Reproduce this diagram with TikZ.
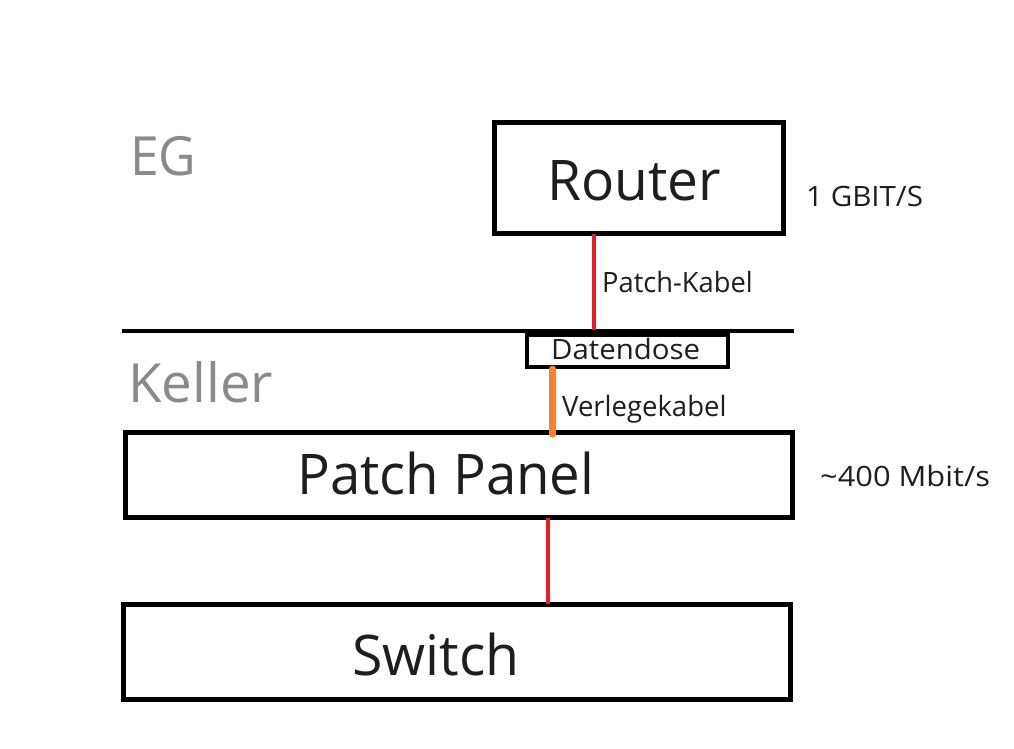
\documentclass[tikz,border=0pt]{standalone}
\usepackage{fontspec}
\usepackage{graphicx}
\setmainfont{Open Sans}
\definecolor{cabred}{HTML}{ED1C24}
\definecolor{cabora}{HTML}{FF7F27}
\definecolor{floorgray}{HTML}{8A8A8A}
\definecolor{txt}{HTML}{1E1E1E}
\newcommand{\hsq}[2]{\scalebox{#1}[1]{#2}}
\begin{document}
\begin{tikzpicture}[x=1pt,y=-1pt,
  box/.style={draw=black,line width=5pt,inner sep=0pt,minimum width=#1},
  bigtxt/.style={font=\fontsize{56}{60}\selectfont,text=txt,inner sep=0pt,anchor=base west},
  smalltxt/.style={font=\fontsize{28}{32}\selectfont,text=txt,inner sep=0pt,anchor=base west},
  floortxt/.style={font=\fontsize{54}{60}\selectfont,text=floorgray,inner sep=0pt,anchor=base west},
  redcable/.style={draw=cabred,line width=4pt},
  oracable/.style={draw=cabora,line width=7pt}]
\path[use as bounding box] (0,0) rectangle (1014,749);
\fill[white] (0,0) rectangle (1014,749);
% boxes
\node[box=289pt,minimum height=111pt] (router) at (639,178) {};
\node[draw=black,line width=4pt,inner sep=0pt,minimum width=201pt,minimum height=32pt] (dose) at (627.5,351) {};
\node[box=667pt,minimum height=85pt] (panel) at (459,475) {};
\node[box=666.5pt,minimum height=95pt] (switch) at (456.75,651.5) {};
% floor line
\coordinate (fl) at (122,330.5);
\coordinate (fr) at (794,330.5);
\draw[line width=4pt] (fl) -- (fr);
% texts
\node[bigtxt] (routert) at (547,200.5) {\hsq{0.983}{Router}};
\node[bigtxt] (panelt) at (297,494) {\hsq{0.974}{Patch Panel}};
\node[bigtxt] (switcht) at (352,675) {\hsq{0.988}{Switch}};
\node[smalltxt] (dosetxt) at (551,359) {\hsq{1.05}{Datendose}};
\node[smalltxt] (gbit) at (806,206) {\hsq{1.055}{1 GBIT/S}};
\node[smalltxt] (mbit) at (820,486) {\hsq{1.1}{\char"007E 400 Mbit/s}};
\node[smalltxt] (pk) at (602,292) {\hsq{0.974}{Patch-Kabel}};
\node[smalltxt] (vk) at (562,416) {\hsq{0.982}{Verlegekabel}};
\node[floortxt] (eg) at (130,175) {\hsq{0.956}{EG}};
\node[floortxt] (keller) at (128,402) {\hsq{1.014}{Keller}};
% cables
\coordinate (c1a) at (593.5,233.5);
\coordinate (c1b) at (593.5,330);
\draw[redcable] (c1a) -- (c1b);
\coordinate (c2a) at (552.5,369);
\coordinate (c2b) at (552.5,434);
\draw[oracable,line cap=round] (c2a) -- (c2b);
\coordinate (c3a) at (548,517.5);
\coordinate (c3b) at (548,604);
\draw[redcable] (c3a) -- (c3b);
\end{tikzpicture}
\end{document}
